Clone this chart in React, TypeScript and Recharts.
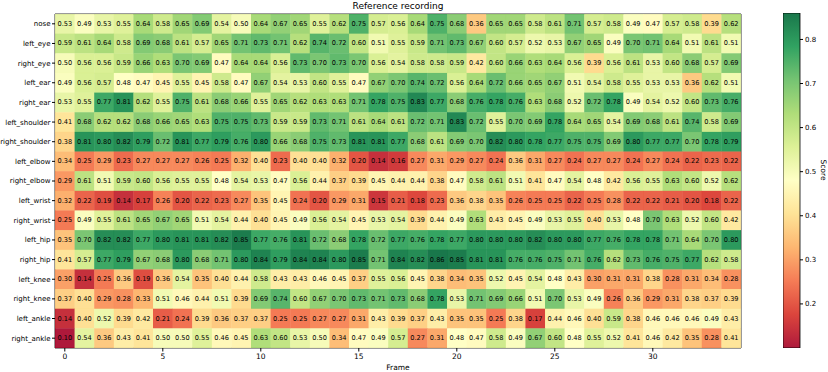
import {
  ScatterChart,
  Scatter,
  XAxis,
  YAxis,
  ReferenceArea,
  BarChart,
  Bar,
} from "recharts";

const JOINTS = [
  "nose", "left_eye", "right_eye", "left_ear", "right_ear", "left_shoulder",
  "right_shoulder", "left_elbow", "right_elbow", "left_wrist", "right_wrist",
  "left_hip", "right_hip", "left_knee", "right_knee", "left_ankle", "right_ankle",
];

const FRAME_TICKS = [0, 5, 10, 15, 20, 25, 30];
const SCORE_TICKS = [0.2, 0.3, 0.4, 0.5, 0.6, 0.7, 0.8];

const nose = [0.53, 0.49, 0.53, 0.55, 0.64, 0.58, 0.65, 0.69, 0.54, 0.50, 0.64, 0.67, 0.65, 0.55, 0.62, 0.75, 0.57, 0.56, 0.64, 0.75, 0.68, 0.36, 0.65, 0.65, 0.58, 0.61, 0.71, 0.57, 0.58, 0.49, 0.47, 0.57, 0.58, 0.39, 0.62];
const leftEye = [0.59, 0.61, 0.64, 0.58, 0.69, 0.68, 0.61, 0.57, 0.65, 0.71, 0.73, 0.71, 0.62, 0.74, 0.72, 0.60, 0.51, 0.55, 0.59, 0.71, 0.73, 0.67, 0.60, 0.57, 0.52, 0.53, 0.67, 0.65, 0.49, 0.70, 0.71, 0.64, 0.51, 0.61, 0.51];
const rightEye = [0.50, 0.56, 0.56, 0.59, 0.66, 0.63, 0.70, 0.69, 0.47, 0.64, 0.64, 0.56, 0.73, 0.70, 0.73, 0.70, 0.56, 0.54, 0.58, 0.58, 0.59, 0.42, 0.60, 0.66, 0.63, 0.64, 0.56, 0.39, 0.56, 0.61, 0.53, 0.60, 0.68, 0.57, 0.69];
const leftEar = [0.49, 0.56, 0.57, 0.48, 0.47, 0.45, 0.55, 0.45, 0.58, 0.47, 0.67, 0.54, 0.53, 0.60, 0.55, 0.47, 0.67, 0.70, 0.74, 0.72, 0.56, 0.64, 0.72, 0.66, 0.65, 0.67, 0.51, 0.54, 0.58, 0.55, 0.53, 0.53, 0.36, 0.62, 0.51];
const rightEar = [0.53, 0.55, 0.77, 0.81, 0.62, 0.55, 0.75, 0.61, 0.68, 0.66, 0.55, 0.65, 0.62, 0.63, 0.63, 0.71, 0.78, 0.75, 0.83, 0.77, 0.68, 0.76, 0.78, 0.76, 0.63, 0.68, 0.52, 0.72, 0.78, 0.49, 0.54, 0.52, 0.60, 0.73, 0.76];
const leftShoulder = [0.41, 0.68, 0.62, 0.62, 0.68, 0.66, 0.65, 0.63, 0.75, 0.75, 0.73, 0.59, 0.59, 0.73, 0.71, 0.61, 0.64, 0.61, 0.72, 0.71, 0.83, 0.72, 0.55, 0.70, 0.69, 0.78, 0.64, 0.65, 0.54, 0.69, 0.68, 0.61, 0.74, 0.58, 0.69];
const rightShoulder = [0.38, 0.81, 0.80, 0.82, 0.79, 0.72, 0.81, 0.77, 0.79, 0.76, 0.80, 0.66, 0.68, 0.75, 0.73, 0.81, 0.81, 0.77, 0.68, 0.61, 0.69, 0.70, 0.82, 0.80, 0.78, 0.77, 0.75, 0.75, 0.69, 0.80, 0.77, 0.77, 0.70, 0.78, 0.79];
const leftElbow = [0.34, 0.25, 0.29, 0.23, 0.27, 0.27, 0.27, 0.26, 0.25, 0.32, 0.40, 0.23, 0.40, 0.40, 0.32, 0.20, 0.14, 0.16, 0.27, 0.31, 0.29, 0.27, 0.24, 0.36, 0.31, 0.27, 0.24, 0.27, 0.27, 0.24, 0.27, 0.24, 0.22, 0.23, 0.22];
const rightElbow = [0.29, 0.61, 0.51, 0.59, 0.60, 0.56, 0.55, 0.55, 0.48, 0.54, 0.53, 0.47, 0.56, 0.44, 0.37, 0.39, 0.45, 0.44, 0.44, 0.38, 0.47, 0.58, 0.61, 0.51, 0.41, 0.47, 0.54, 0.48, 0.42, 0.56, 0.55, 0.63, 0.60, 0.52, 0.62];
const leftWrist = [0.32, 0.22, 0.19, 0.14, 0.17, 0.26, 0.20, 0.22, 0.23, 0.27, 0.35, 0.45, 0.24, 0.20, 0.29, 0.31, 0.15, 0.21, 0.18, 0.23, 0.36, 0.38, 0.35, 0.26, 0.25, 0.25, 0.22, 0.25, 0.28, 0.22, 0.22, 0.21, 0.20, 0.18, 0.22];
const rightWrist = [0.25, 0.49, 0.55, 0.61, 0.65, 0.67, 0.65, 0.51, 0.54, 0.44, 0.40, 0.45, 0.49, 0.56, 0.54, 0.45, 0.53, 0.54, 0.39, 0.44, 0.49, 0.63, 0.43, 0.45, 0.49, 0.53, 0.55, 0.40, 0.53, 0.48, 0.70, 0.63, 0.52, 0.60, 0.42];
const leftHip = [0.35, 0.70, 0.82, 0.82, 0.77, 0.80, 0.81, 0.81, 0.82, 0.85, 0.77, 0.76, 0.81, 0.72, 0.68, 0.78, 0.72, 0.77, 0.76, 0.78, 0.77, 0.80, 0.80, 0.80, 0.82, 0.80, 0.80, 0.77, 0.76, 0.78, 0.78, 0.71, 0.64, 0.70, 0.80];
const rightHip = [0.41, 0.57, 0.77, 0.79, 0.67, 0.68, 0.80, 0.68, 0.71, 0.80, 0.84, 0.79, 0.84, 0.84, 0.80, 0.85, 0.71, 0.84, 0.82, 0.86, 0.85, 0.81, 0.81, 0.76, 0.76, 0.75, 0.71, 0.76, 0.62, 0.73, 0.76, 0.75, 0.77, 0.62, 0.58];
const leftKnee = [0.30, 0.14, 0.25, 0.36, 0.19, 0.36, 0.54, 0.35, 0.40, 0.44, 0.58, 0.43, 0.43, 0.46, 0.45, 0.37, 0.55, 0.56, 0.45, 0.38, 0.34, 0.35, 0.52, 0.45, 0.54, 0.48, 0.43, 0.30, 0.31, 0.31, 0.38, 0.28, 0.31, 0.34, 0.28];
const rightKnee = [0.37, 0.40, 0.29, 0.28, 0.33, 0.51, 0.46, 0.44, 0.51, 0.39, 0.69, 0.74, 0.60, 0.67, 0.70, 0.73, 0.71, 0.73, 0.68, 0.78, 0.53, 0.71, 0.69, 0.66, 0.51, 0.70, 0.53, 0.49, 0.26, 0.36, 0.29, 0.31, 0.38, 0.37, 0.39];
const leftAnkle = [0.14, 0.40, 0.52, 0.39, 0.42, 0.21, 0.24, 0.39, 0.36, 0.37, 0.37, 0.25, 0.25, 0.27, 0.27, 0.31, 0.43, 0.39, 0.37, 0.43, 0.35, 0.35, 0.25, 0.38, 0.17, 0.44, 0.46, 0.40, 0.59, 0.38, 0.46, 0.46, 0.46, 0.49, 0.43];
const rightAnkle = [0.10, 0.54, 0.36, 0.43, 0.41, 0.50, 0.50, 0.55, 0.46, 0.45, 0.63, 0.60, 0.53, 0.50, 0.34, 0.47, 0.49, 0.57, 0.27, 0.31, 0.48, 0.47, 0.58, 0.49, 0.67, 0.60, 0.48, 0.55, 0.52, 0.41, 0.46, 0.42, 0.35, 0.28, 0.41];

const SCORES = [
  nose, leftEye, rightEye, leftEar, rightEar, leftShoulder, rightShoulder,
  leftElbow, rightElbow, leftWrist, rightWrist, leftHip, rightHip,
  leftKnee, rightKnee, leftAnkle, rightAnkle,
];

const V_MIN = 0.10;
const V_MAX = 0.86;

// RdYlGn stops
const RDYLGN = [
  "#a50026", "#d73027", "#f46d43", "#fdae61", "#fee08b", "#ffffbf",
  "#d9ef8b", "#a6d96a", "#66bd63", "#1a9850", "#006837",
];

const hexToRgb = (h: string) => [
  parseInt(h.slice(1, 3), 16),
  parseInt(h.slice(3, 5), 16),
  parseInt(h.slice(5, 7), 16),
];

function colorFor(v: number) {
  let t = (v - V_MIN) / (V_MAX - V_MIN);
  t = Math.max(0, Math.min(1, t));
  const pos = t * (RDYLGN.length - 1);
  const i = Math.min(Math.floor(pos), RDYLGN.length - 2);
  const f = pos - i;
  const a = hexToRgb(RDYLGN[i]);
  const b = hexToRgb(RDYLGN[i + 1]);
  const c = a.map((x, k) => Math.round(x + (b[k] - x) * f));
  return `rgb(${c[0]},${c[1]},${c[2]})`;
}

const N_FRAMES = nose.length;
const W = 828;
const H = 372;
const PLOT_L = 55;
const PLOT_R = 741;
const PLOT_T = 14;
const PLOT_B = 348;
const CELL_W = (PLOT_R - PLOT_L) / N_FRAMES;
const CELL_H = (PLOT_B - PLOT_T) / JOINTS.length;

const cells = SCORES.flatMap((row, r) =>
  row.map((v, c) => ({ frame: c, joint: r, score: v }))
);

// one range bar for the colour bar
const colorbarData = [{ name: "score", range: [V_MIN, V_MAX] }];

const FONT = "DejaVu Sans, sans-serif";

function HeatCell(props: any) {
  const { cx, cy, payload } = props;
  return (
    <g>
      <rect
        x={cx - CELL_W / 2}
        y={cy - CELL_H / 2}
        width={CELL_W + 0.3}
        height={CELL_H + 0.3}
        fill={colorFor(payload.score)}
        fillOpacity={0.9}
      />
      <text
        x={cx}
        y={cy}
        textAnchor="middle"
        dominantBaseline="central"
        fontSize={6.6}
        fontFamily={FONT}
        fill="#000"
      >
        {payload.score.toFixed(2)}
      </text>
    </g>
  );
}

const tickStyle = { fontSize: 7.5, fill: "#000", fontFamily: FONT };

export default function App() {
  return (
    <div style={{ position: "absolute", left: 0, top: 0, width: W, height: H, background: "#fff" }}>
      <div
        style={{
          position: "absolute",
          left: PLOT_L,
          width: PLOT_R - PLOT_L,
          top: 1,
          textAlign: "center",
          fontSize: 9,
          fontFamily: FONT,
          color: "#000",
        }}
      >
        Reference recording
      </div>
      <div style={{ position: "absolute", left: 0, top: 0 }}>
        <ScatterChart
          width={W}
          height={H}
          margin={{ top: PLOT_T, right: W - PLOT_R, bottom: 0, left: 0 }}
        >
          <XAxis
            type="number"
            dataKey="frame"
            domain={[-0.5, N_FRAMES - 0.5]}
            ticks={FRAME_TICKS}
            interval={0}
            allowDataOverflow
            height={H - PLOT_B}
            tick={tickStyle}
            tickSize={3.5}
            tickLine={{ stroke: "#000" }}
            axisLine={false}
            label={{ value: "Frame", position: "insideBottom", offset: 2, fontSize: 7.5, fill: "#000", fontFamily: FONT }}
          />
          <YAxis
            type="number"
            dataKey="joint"
            domain={[-0.5, JOINTS.length - 0.5]}
            reversed
            ticks={JOINTS.map((_, i) => i)}
            interval={0}
            allowDataOverflow
            width={PLOT_L}
            tick={{ ...tickStyle, fontSize: 7 }}
            tickSize={3}
            tickMargin={1.5}
            tickLine={{ stroke: "#000" }}
            axisLine={false}
            tickFormatter={(i: number) => JOINTS[i] ?? ""}
          />
          <Scatter data={cells} shape={<HeatCell />} isAnimationActive={false} />
          <ReferenceArea
            x1={-0.5}
            x2={N_FRAMES - 0.5}
            y1={-0.5}
            y2={JOINTS.length - 0.5}
            fill="none"
            stroke="#000"
            strokeWidth={0.8}
            ifOverflow="visible"
          />
        </ScatterChart>
      </div>
      <div style={{ position: "absolute", left: 783, top: 0 }}>
        <BarChart
          width={45}
          height={H}
          data={colorbarData}
          margin={{ top: 13, right: 0, bottom: H - 348, left: 0 }}
          barCategoryGap={0}
        >
          <defs>
            <linearGradient id="cbar" x1="0" y1="1" x2="0" y2="0">
              {RDYLGN.map((c, i) => (
                <stop key={c} offset={`${(i / (RDYLGN.length - 1)) * 100}%`} stopColor={c} stopOpacity={0.9} />
              ))}
            </linearGradient>
          </defs>
          <XAxis dataKey="name" hide />
          <YAxis
            type="number"
            orientation="right"
            domain={[V_MIN, V_MAX]}
            ticks={SCORE_TICKS}
            interval={0}
            allowDataOverflow
            width={28}
            tick={{ ...tickStyle, fontSize: 7 }}
            tickSize={3}
            tickLine={{ stroke: "#000" }}
            axisLine={false}
            tickFormatter={(v: number) => v.toFixed(1)}
            label={{ value: "Score", angle: 90, position: "insideRight", offset: 4, fontSize: 7.5, fill: "#000", fontFamily: FONT }}
          />
          <Bar
            dataKey="range"
            fill="url(#cbar)"
            stroke="#000"
            strokeWidth={0.8}
            isAnimationActive={false}
          />
        </BarChart>
      </div>
    </div>
  );
}
